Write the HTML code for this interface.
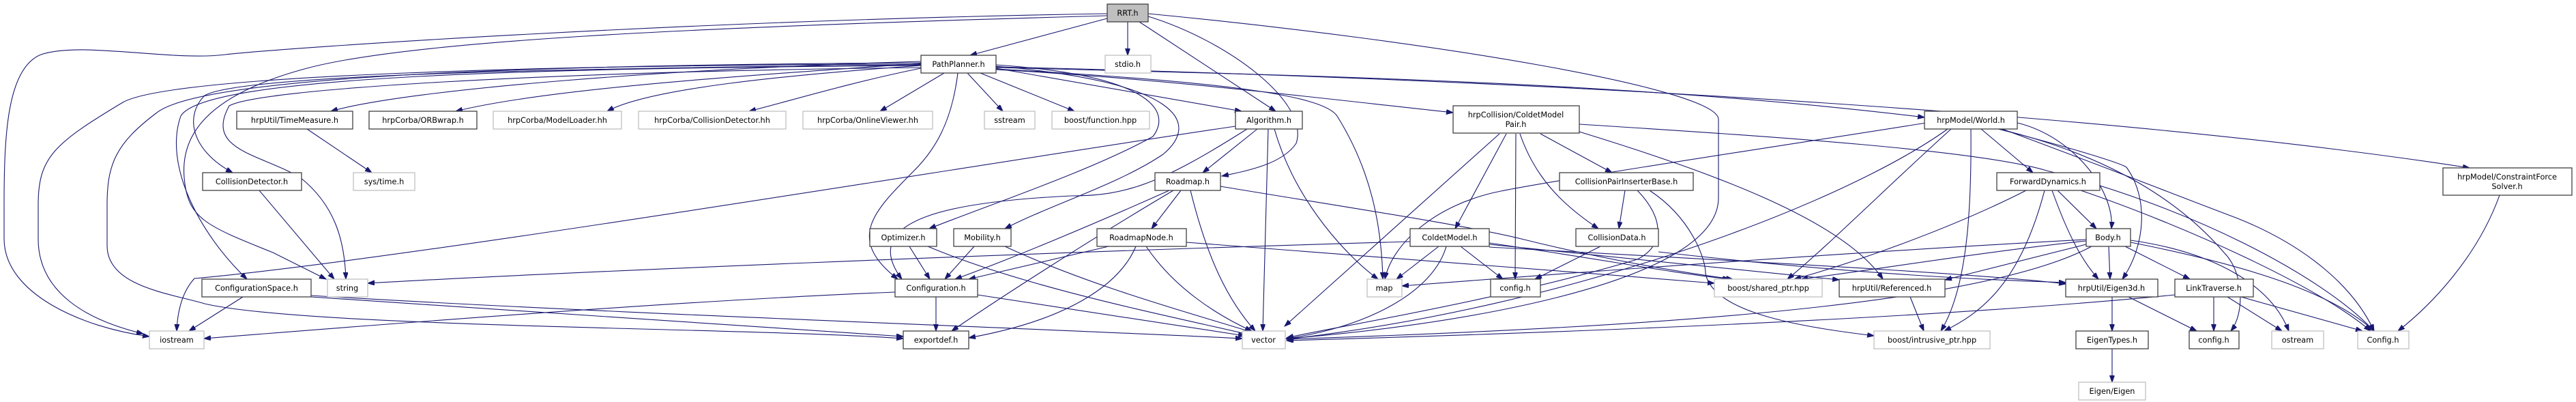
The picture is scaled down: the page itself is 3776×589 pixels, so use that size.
<!DOCTYPE html>
<html><head><meta charset="utf-8">
<style>
html,body{margin:0;padding:0;background:#fff;}
svg{display:block;}
text{font-family:"DejaVu Sans","Liberation Sans",sans-serif;font-size:11.3px;fill:#000;text-anchor:middle;}
.d{fill:#fff;stroke:#404040;stroke-width:1.3;}
.g{fill:#fff;stroke:#bfbfbf;stroke-width:1.3;}
.f{fill:#bfbfbf;stroke:#404040;stroke-width:1.3;}
path{fill:none;stroke:#191970;stroke-width:1.1;marker-end:url(#a);}
</style></head><body>
<svg width="3776" height="589" viewBox="0 0 3776 589" xmlns="http://www.w3.org/2000/svg">
<defs><marker id="a" markerUnits="userSpaceOnUse" markerWidth="11" markerHeight="8" refX="10" refY="3.5" orient="auto"><path d="M0,0 L10,3.5 L0,7 z" style="fill:#191970;stroke:#191970;stroke-width:1;marker-end:none"/></marker></defs>

<!-- edges -->
<path d="M1623,27 L1422,81"/>
<path d="M1653,32 L1653,81"/>
<path d="M1670,32 L1870,163"/>
<path d="M1683,24 C1800,60 1920,150 1900,210 C1880,240 1830,250 1791,258"/>
<path d="M1683,20 C2100,60 2520,130 2519,175 L2519,290 C2519,420 2100,480 1886,496"/>
<path d="M1623,20 C1000,30 420,70 330,80 C250,90 120,60 60,80 C10,100 6,200 6,300 L6,350 C6,430 120,480 219,493"/>
<path d="M1623,23 C1000,40 600,60 450,100 C300,140 265,200 270,260 C275,320 300,330 400,370 L478,409"/>

<path d="M1350,90 C1000,100 600,130 485,163"/>
<path d="M1350,93 C1100,110 800,130 668,163"/>
<path d="M1350,96 C1150,110 950,130 890,163"/>
<path d="M1350,100 C1250,120 1150,150 1098,163"/>
<path d="M1384,107 L1290,163"/>
<path d="M1418,107 L1470,163"/>
<path d="M1437,107 L1575,163"/>
<path d="M1460,100 L1820,163"/>
<path d="M1350,95 C800,100 350,110 300,140 C270,170 280,220 341,253"/>
<path d="M1350,96 C800,100 300,110 265,170 C240,240 290,340 362,409"/>
<path d="M1350,99 C800,105 380,130 336,155 C300,220 380,225 440,260 C490,300 505,350 507,409"/>
<path d="M1350,94 C800,95 250,110 180,150 C80,210 56,230 56,300 L56,350 C56,430 130,470 210,489"/>
<path d="M1350,92 C800,95 300,110 230,165 C170,210 157,240 157,300 L157,360 C157,420 250,430 300,445 C450,480 1100,480 1324,496"/>
<path d="M1404,107 C1395,180 1370,220 1340,250 C1280,310 1240,350 1316,409"/>
<path d="M1460,95 C1680,110 1720,160 1690,200 C1600,250 1450,300 1362,335"/>
<path d="M1460,97 C1730,120 1760,180 1705,226 C1640,270 1540,300 1473,335"/>
<path d="M1460,102 C1700,115 1900,140 2130,165"/>
<path d="M1460,99 C1900,110 2400,120 2821,172"/>
<path d="M1460,98 C2000,110 3000,150 3620,246"/>
<path d="M1460,101 C1800,120 1940,140 1960,170 C2010,250 2025,330 2027,409"/>

<path d="M1843,189 L1763,253"/>
<path d="M1859,189 L1851,485"/>
<path d="M1868,189 C1900,300 1980,380 2020,409"/>
<path d="M1828,189 C1700,270 1650,287 1570,287 C1400,295 1255,320 1322,409"/>
<path d="M1811,185 C1500,230 600,380 285,408 C265,430 260,460 259,485"/>

<path d="M1731,279 L1688,335"/>
<path d="M1714,279 C1600,330 1480,380 1400,409"/>
<path d="M1720,279 C1600,350 1460,440 1395,485"/>
<path d="M1745,279 C1770,380 1800,440 1840,485"/>
<path d="M1789,273 C1950,300 2150,330 2230,350 C2350,380 2470,400 2540,409"/>

<path d="M1625,361 L1420,409"/>
<path d="M1665,361 C1640,420 1560,470 1420,495"/>
<path d="M1680,361 C1720,420 1780,460 1835,485"/>
<path d="M1739,355 C1850,362 2200,390 2513,415"/>

<path d="M1333,361 L1363,409"/>
<path d="M1360,361 C1500,420 1700,460 1830,490"/>
<path d="M1428,361 L1385,409"/>
<path d="M1473,361 C1600,420 1750,460 1836,487"/>

<path d="M1372,435 L1372,485"/>
<path d="M1433,432 L1825,492"/>
<path d="M1312,428 C1000,440 500,480 299,496"/>

<path d="M356,435 L277,485"/>
<path d="M456,435 C800,460 1100,480 1324,493"/>
<path d="M456,433 C900,460 1500,480 1821,496"/>
<path d="M450,189 L545,253"/>
<path d="M380,279 L490,409"/>

<path d="M2208,196 L2133,335"/>
<path d="M2222,196 L2221,409"/>
<path d="M2228,196 C2250,260 2290,300 2343,335"/>
<path d="M2258,196 L2363,253"/>
<path d="M2198,196 L1883,478"/>
<path d="M2315,193 C2500,250 2700,320 2760,409"/>
<path d="M2315,182 C2600,200 2900,220 3000,250 C3200,300 3400,400 3480,485"/>

<path d="M2382,279 L2373,335"/>
<path d="M2400,279 C2440,320 2440,360 2400,380 C2200,440 1950,480 1886,495"/>
<path d="M2418,279 C2480,320 2500,380 2500,400 C2510,460 2650,480 2747,492"/>

<path d="M2109,361 L2047,409"/>
<path d="M2141,361 L2203,409"/>
<path d="M2120,361 C2100,430 2000,480 1886,496"/>
<path d="M2067,354 C1500,370 800,400 539,415"/>
<path d="M2183,356 C2350,380 2450,400 2535,409"/>
<path d="M2183,358 C2400,380 2600,400 2696,410"/>
<path d="M2183,362 C2500,380 2900,400 3028,416"/>

<path d="M2346,361 L2250,409"/>
<path d="M2431,369 C2700,400 2900,410 3028,414"/>

<path d="M2904,189 L2980,253"/>
<path d="M2957,180 C3040,200 3100,280 3095,335"/>
<path d="M2929,189 C3050,220 3110,240 3117,245 C3150,290 3145,360 3111,409"/>
<path d="M2889,189 C2890,300 2885,420 2845,485"/>
<path d="M2935,189 C3100,250 3200,290 3280,320 C3380,360 3450,420 3480,485"/>
<path d="M2930,189 C3100,230 3200,300 3260,370 C3290,400 3290,460 3270,485"/>
<path d="M2855,189 C2700,300 2300,450 1886,497"/>
<path d="M2836,178 C2700,200 2300,260 2200,280 C2100,300 2040,360 2030,409"/>
<path d="M2860,189 C2770,270 2680,360 2620,409"/>

<path d="M3016,279 L3073,335"/>
<path d="M3008,279 C3030,340 3050,380 3076,409"/>
<path d="M2997,279 C2960,420 2900,460 2850,485"/>
<path d="M3050,279 C3200,330 3400,420 3475,485"/>
<path d="M2970,279 C2850,340 2700,390 2630,409"/>

<path d="M3091,361 L3093,409"/>
<path d="M3115,361 L3210,409"/>
<path d="M3058,358 L2851,410"/>
<path d="M3058,353 C2900,370 2750,395 2640,409"/>
<path d="M3058,351 C2700,370 2300,400 2055,419"/>
<path d="M3066,361 C2900,450 2400,480 1886,497"/>
<path d="M3123,352 C3250,370 3330,420 3355,485"/>
<path d="M3123,355 C3300,390 3420,430 3480,485"/>

<path d="M3096,435 L3096,485"/>
<path d="M3120,435 L3220,485"/>
<path d="M3096,511 L3096,560"/>
<path d="M3245,435 L3245,485"/>
<path d="M3265,435 L3345,485"/>
<path d="M3285,435 L3463,485"/>
<path d="M3188,432 C2800,470 2200,490 1886,499"/>
<path d="M2800,435 L2820,485"/>
<path d="M3664,286 C3630,380 3560,450 3515,485"/>

<!-- nodes -->
<rect class="f" x="1623" y="6" width="60" height="26"/><text x="1653" y="23">RRT.h</text>
<rect class="d" x="1350" y="81" width="110" height="26"/><text x="1405" y="98">PathPlanner.h</text>
<rect class="g" x="1620" y="81" width="67" height="26"/><text x="1653" y="98">stdio.h</text>
<rect class="d" x="347" y="163" width="170" height="26"/><text x="432" y="180">hrpUtil/TimeMeasure.h</text>
<rect class="d" x="541" y="163" width="158" height="26"/><text x="620" y="180">hrpCorba/ORBwrap.h</text>
<rect class="g" x="723" y="163" width="188" height="26"/><text x="817" y="180">hrpCorba/ModelLoader.hh</text>
<rect class="g" x="936" y="163" width="216" height="26"/><text x="1044" y="180">hrpCorba/CollisionDetector.hh</text>
<rect class="g" x="1177" y="163" width="190" height="26"/><text x="1272" y="180">hrpCorba/OnlineViewer.hh</text>
<rect class="g" x="1443" y="163" width="74" height="26"/><text x="1480" y="180">sstream</text>
<rect class="g" x="1542" y="163" width="143" height="26"/><text x="1613" y="180">boost/function.hpp</text>
<rect class="d" x="1811" y="163" width="98" height="26"/><text x="1860" y="180">Algorithm.h</text>
<rect class="d" x="2130" y="155" width="185" height="40"/><text x="2222" y="172">hrpCollision/ColdetModel</text><text x="2222" y="186">Pair.h</text>
<rect class="d" x="2821" y="163" width="136" height="26"/><text x="2889" y="180">hrpModel/World.h</text>
<rect class="d" x="3581" y="246" width="189" height="40"/><text x="3675" y="263">hrpModel/ConstraintForce</text><text x="3675" y="277">Solver.h</text>
<rect class="d" x="297" y="253" width="145" height="26"/><text x="369" y="270">CollisionDetector.h</text>
<rect class="g" x="518" y="253" width="90" height="26"/><text x="563" y="270">sys/time.h</text>
<rect class="d" x="1693" y="253" width="96" height="26"/><text x="1741" y="270">Roadmap.h</text>
<rect class="d" x="2286" y="253" width="196" height="26"/><text x="2384" y="270">CollisionPairInserterBase.h</text>
<rect class="d" x="2927" y="253" width="151" height="26"/><text x="3002" y="270">ForwardDynamics.h</text>
<rect class="d" x="1275" y="335" width="98" height="26"/><text x="1324" y="352">Optimizer.h</text>
<rect class="d" x="1398" y="335" width="84" height="26"/><text x="1440" y="352">Mobility.h</text>
<rect class="d" x="1608" y="335" width="131" height="26"/><text x="1673" y="352">RoadmapNode.h</text>
<rect class="d" x="2067" y="335" width="116" height="26"/><text x="2125" y="352">ColdetModel.h</text>
<rect class="d" x="2310" y="335" width="121" height="26"/><text x="2370" y="352">CollisionData.h</text>
<rect class="d" x="3058" y="335" width="65" height="26"/><text x="3090" y="352">Body.h</text>
<rect class="d" x="296" y="409" width="160" height="26"/><text x="376" y="426">ConfigurationSpace.h</text>
<rect class="g" x="480" y="409" width="59" height="26"/><text x="509" y="426">string</text>
<rect class="d" x="1312" y="409" width="121" height="26"/><text x="1372" y="426">Configuration.h</text>
<rect class="g" x="2004" y="409" width="51" height="26"/><text x="2029" y="426">map</text>
<rect class="d" x="2185" y="409" width="73" height="26"/><text x="2221" y="426">config.h</text>
<rect class="g" x="2513" y="409" width="158" height="26"/><text x="2592" y="426">boost/shared_ptr.hpp</text>
<rect class="d" x="2696" y="409" width="155" height="26"/><text x="2773" y="426">hrpUtil/Referenced.h</text>
<rect class="d" x="3028" y="409" width="135" height="26"/><text x="3095" y="426">hrpUtil/Eigen3d.h</text>
<rect class="d" x="3188" y="409" width="115" height="26"/><text x="3245" y="426">LinkTraverse.h</text>
<rect class="g" x="219" y="485" width="80" height="26"/><text x="259" y="502">iostream</text>
<rect class="d" x="1324" y="485" width="96" height="26"/><text x="1372" y="502">exportdef.h</text>
<rect class="g" x="1821" y="485" width="63" height="26"/><text x="1852" y="502">vector</text>
<rect class="g" x="2747" y="485" width="170" height="26"/><text x="2832" y="502">boost/intrusive_ptr.hpp</text>
<rect class="d" x="3043" y="485" width="106" height="26"/><text x="3096" y="502">EigenTypes.h</text>
<rect class="d" x="3209" y="485" width="73" height="26"/><text x="3245" y="502">config.h</text>
<rect class="g" x="3330" y="485" width="76" height="26"/><text x="3368" y="502">ostream</text>
<rect class="g" x="3456" y="485" width="75" height="26"/><text x="3493" y="502">Config.h</text>
<rect class="g" x="3047" y="560" width="98" height="26"/><text x="3096" y="577">Eigen/Eigen</text>
</svg>
</body></html>
